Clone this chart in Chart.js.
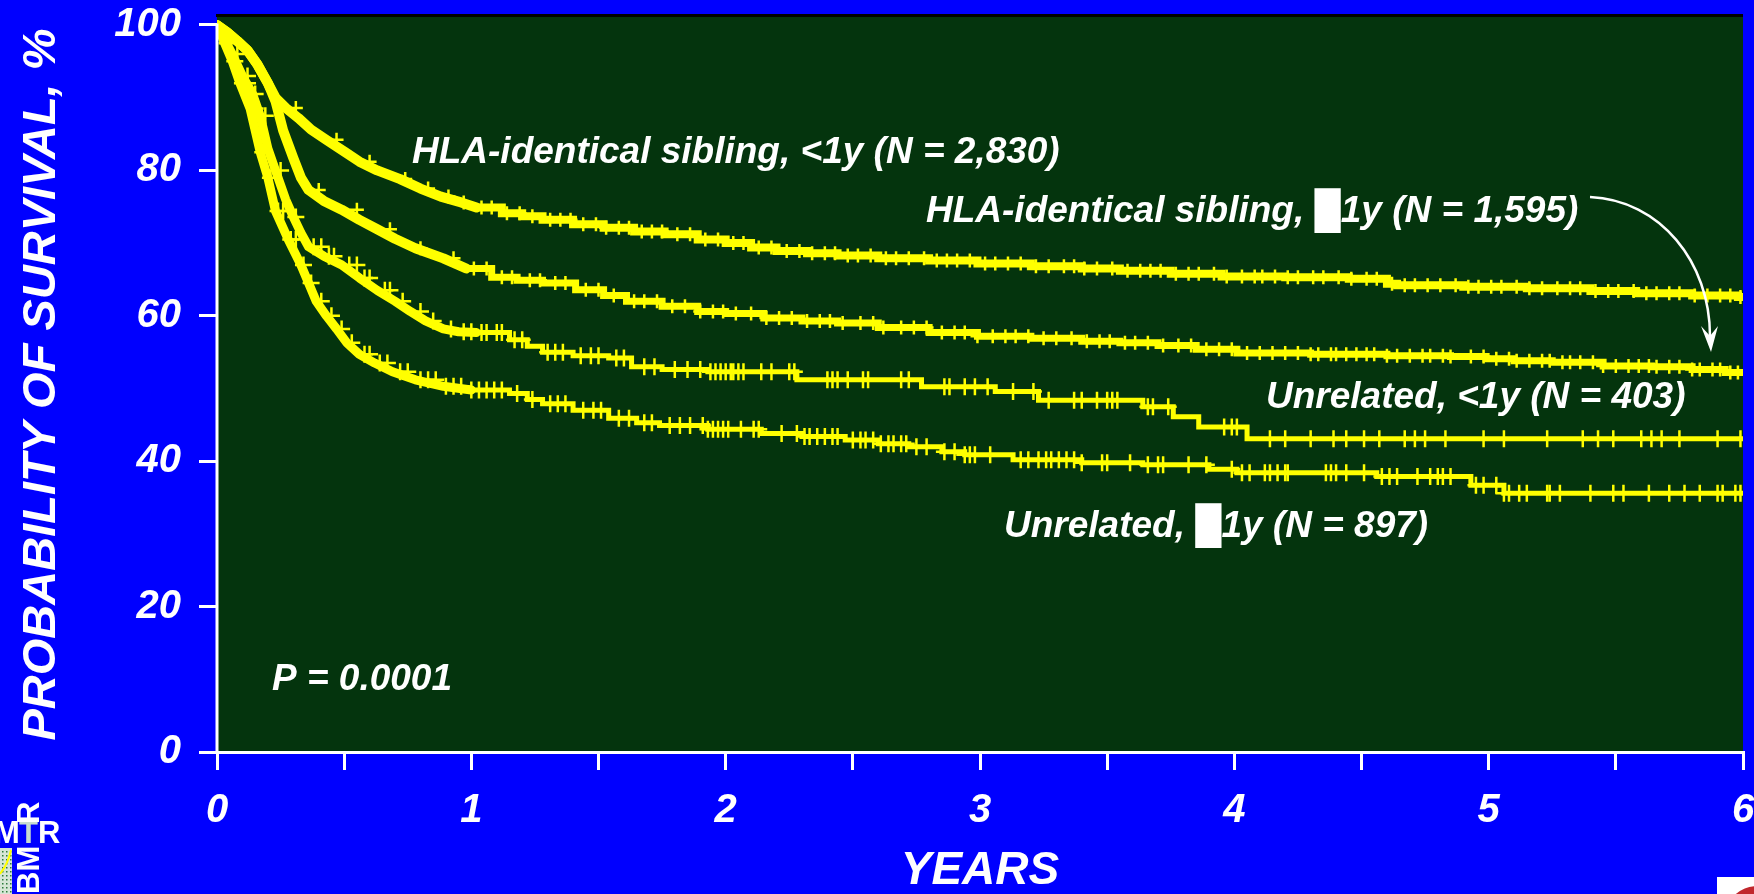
<!DOCTYPE html>
<html>
<head>
<meta charset="utf-8">
<script src="https://cdn.jsdelivr.net/npm/chart.js@4.4.0/dist/chart.umd.min.js"></script>
<style>
html,body{margin:0;padding:0;background:#0000ff;overflow:hidden}
#wrap{width:1754px;height:894px;position:relative}
canvas{display:block}
</style>
</head>
<body>
<div id="wrap"><canvas id="c" width="1754" height="894"></canvas></div>
<script>
// ---------- DATA ----------
const xTicks = [0, 0.5, 1, 1.5, 2, 2.5, 3, 3.5, 4, 4.5, 5, 5.5, 6];
const yTicks = [0, 20, 40, 60, 80, 100];

const seriesNames = [
  'HLA-identical sibling, <1y (N = 2,830)',
  'HLA-identical sibling, \u25881y (N = 1,595)',
  'Unrelated, <1y (N = 403)',
  'Unrelated, \u25881y (N = 897)'
];

// HLA-identical sibling, <1y
const sibLt1Times = [0,0.04,0.08,0.12,0.16,0.20,0.23,0.27,0.32,0.37,0.43,0.50,0.56,0.63,0.72,0.80,0.88,0.96,1.02,1.12,1.20,1.28,1.40,1.52,1.64,1.76,1.89,2.00,2.10,2.20,2.32,2.44,2.60,2.80,2.99,3.20,3.40,3.55,3.75,3.95,4.20,4.45,4.60,4.64,4.90,5.15,5.40,5.58,5.80,5.98,6.00];
const sibLt1Surv  = [100,99,97.8,96.5,94.5,92,90,88.6,87.2,85.6,84.2,82.6,81.2,80.0,78.8,77.5,76.4,75.6,74.9,74.1,73.7,73.2,72.6,72.1,71.6,71.2,70.5,70.0,69.4,68.9,68.6,68.3,67.9,67.6,67.2,66.8,66.5,66.2,65.8,65.4,65.3,65.1,64.4,64.2,64.0,63.8,63.4,63.1,62.8,62.6,62.6];
const sibLt1Censor = [0.31,0.47,0.60,0.74,0.83,0.91,0.97,1.04,1.08,1.14,1.19,1.24,1.31,1.35,1.39,1.44,1.49,1.53,1.58,1.62,1.67,1.71,1.75,1.81,1.86,1.92,1.97,2.03,2.07,2.13,2.18,2.24,2.29,2.34,2.39,2.43,2.48,2.52,2.57,2.63,2.67,2.72,2.78,2.83,2.87,2.91,2.96,3.02,3.06,3.11,3.16,3.22,3.27,3.33,3.37,3.41,3.46,3.52,3.58,3.63,3.67,3.71,3.77,3.82,3.86,3.92,3.97,4.03,4.08,4.11,4.16,4.21,4.25,4.31,4.35,4.41,4.46,4.52,4.56,4.62,4.67,4.71,4.76,4.81,4.87,4.92,4.96,5.01,5.05,5.11,5.16,5.21,5.27,5.32,5.36,5.42,5.47,5.51,5.57,5.62,5.66,5.71,5.75,5.81,5.86,5.91,5.95,5.99];

// HLA-identical sibling, >=1y
const sibGe1Times = [0,0.04,0.08,0.12,0.16,0.20,0.23,0.26,0.30,0.33,0.36,0.42,0.49,0.56,0.63,0.70,0.78,0.89,0.98,1.08,1.18,1.28,1.41,1.52,1.61,1.75,1.89,2.00,2.15,2.30,2.44,2.60,2.80,2.99,3.20,3.40,3.55,3.70,3.85,4.01,4.30,4.60,4.85,4.99,5.10,5.25,5.45,5.64,5.80,5.93,6.00];
const sibGe1Surv  = [100,99,97.8,96.5,94.5,92,89.5,85.5,81.7,79.0,77.3,75.8,74.6,73.2,71.9,70.6,69.3,67.9,66.5,65.3,64.9,64.5,63.6,62.8,62.0,61.3,60.6,60.3,59.7,59.3,59.0,58.4,57.7,57.2,56.9,56.5,56.3,55.9,55.4,54.9,54.7,54.5,54.4,54.1,53.8,53.6,53.1,53.0,52.6,52.2,52.2];
const sibGe1Censor = [0.40,0.55,0.68,0.80,0.93,1.01,1.06,1.12,1.16,1.23,1.27,1.33,1.37,1.45,1.50,1.56,1.64,1.68,1.73,1.79,1.84,1.90,1.95,1.99,2.04,2.10,2.16,2.21,2.26,2.32,2.37,2.41,2.46,2.53,2.58,2.62,2.69,2.74,2.79,2.85,2.90,2.94,2.99,3.05,3.10,3.14,3.19,3.25,3.30,3.36,3.42,3.47,3.51,3.57,3.61,3.66,3.72,3.78,3.83,3.89,3.94,3.99,4.05,4.10,4.15,4.20,4.25,4.30,4.33,4.38,4.40,4.44,4.48,4.52,4.55,4.60,4.64,4.69,4.74,4.77,4.82,4.85,4.93,4.98,5.03,5.08,5.11,5.16,5.21,5.24,5.29,5.32,5.36,5.41,5.45,5.50,5.55,5.59,5.63,5.66,5.71,5.75,5.80,5.83,5.88,5.91,5.95,5.98];

// Unrelated, <1y
const unrelLt1Times = [0,0.03,0.06,0.10,0.14,0.17,0.20,0.23,0.27,0.30,0.33,0.36,0.42,0.49,0.56,0.63,0.70,0.76,0.82,0.89,0.95,1.02,1.15,1.22,1.28,1.40,1.54,1.63,1.75,1.93,2.28,2.77,3.06,3.23,3.64,3.76,3.86,4.05,6.00];
const unrelLt1Surv  = [100,98,96,93,90.5,87.5,83,80,76,73.6,71.4,69.5,68.2,67.0,65.2,63.5,62.0,60.6,59.3,58.2,57.8,57.7,56.7,55.8,55.0,54.5,54.2,53.0,52.6,52.3,51.2,50.25,49.6,48.4,47.5,46.1,44.7,43.1,43.1];
const unrelLt1Censor = [0.05,0.08,0.12,0.15,0.19,0.25,0.31,0.38,0.41,0.44,0.46,0.52,0.55,0.58,0.60,0.66,0.68,0.73,0.80,0.85,0.92,0.97,1.00,1.04,1.06,1.10,1.12,1.17,1.20,1.30,1.33,1.36,1.43,1.47,1.50,1.57,1.60,1.68,1.72,1.80,1.85,1.90,1.94,1.96,1.98,2.00,2.02,2.03,2.05,2.07,2.14,2.18,2.25,2.27,2.40,2.42,2.44,2.48,2.54,2.56,2.69,2.72,2.86,2.88,2.94,2.98,3.03,3.13,3.21,3.27,3.37,3.40,3.46,3.50,3.52,3.54,3.66,3.68,3.74,3.96,3.99,4.01,4.14,4.20,4.30,4.39,4.44,4.51,4.57,4.67,4.71,4.75,4.83,4.98,5.06,5.23,5.37,5.43,5.49,5.60,5.64,5.68,5.75,5.90,5.99];

// Unrelated, >=1y
const unrelGe1Times = [0,0.03,0.06,0.09,0.13,0.17,0.20,0.23,0.28,0.33,0.36,0.39,0.43,0.47,0.51,0.56,0.62,0.69,0.78,0.89,1.00,1.15,1.22,1.28,1.40,1.54,1.65,1.74,1.93,2.14,2.30,2.47,2.60,2.72,2.85,2.94,3.13,3.40,3.64,3.90,4.01,4.56,4.93,5.06,6.00];
const unrelGe1Surv  = [100,97.5,95,92,88.5,82.5,79,74.4,70.5,67.0,64.5,62.0,60.0,58.2,56.3,54.7,53.5,52.3,51.2,50.3,49.8,49.3,48.5,47.9,47.0,45.9,45.3,44.9,44.4,43.8,43.4,42.9,42.4,42.0,41.3,40.9,40.2,39.8,39.5,38.9,38.4,37.9,36.7,35.6,35.6];
const unrelGe1Censor = [0.04,0.07,0.10,0.12,0.15,0.18,0.21,0.24,0.26,0.29,0.31,0.34,0.37,0.41,0.45,0.49,0.53,0.58,0.60,0.64,0.67,0.72,0.75,0.80,0.83,0.86,0.90,0.93,0.96,1.00,1.03,1.06,1.09,1.12,1.18,1.24,1.31,1.34,1.37,1.44,1.48,1.51,1.58,1.62,1.68,1.71,1.78,1.82,1.86,1.91,1.93,1.95,1.97,1.99,2.01,2.06,2.11,2.13,2.22,2.28,2.31,2.33,2.36,2.39,2.42,2.44,2.50,2.53,2.55,2.58,2.61,2.64,2.66,2.69,2.71,2.75,2.79,2.86,2.90,2.94,2.96,2.98,3.04,3.16,3.19,3.23,3.26,3.28,3.31,3.34,3.37,3.40,3.48,3.50,3.59,3.66,3.70,3.72,3.82,3.89,3.99,4.03,4.06,4.12,4.14,4.17,4.20,4.21,4.36,4.38,4.40,4.44,4.51,4.58,4.61,4.64,4.72,4.77,4.80,4.82,4.85,4.95,4.98,5.03,5.06,5.08,5.12,5.15,5.23,5.24,5.28,5.40,5.49,5.53,5.63,5.71,5.77,5.83,5.90,5.92,5.97,5.99];

// ---------- helpers ----------
function toPoints(times, surv) { return times.map((t, i) => ({x: t, y: surv[i]})); }
function survivalAt(times, surv, t) {
  let v = surv[0];
  for (let i = 0; i < times.length; i++) { if (times[i] <= t) v = surv[i]; }
  return v;
}
function censorPoints(censor, times, surv) { return censor.map(t => ({x: t, y: survivalAt(times, surv, t)})); }

const FONT = '"Liberation Sans", Arial, "DejaVu Sans", sans-serif';
const YELLOW = '#ffff00';
const GREEN = '#04340d';

// style per curve: early (dense) part drawn smooth & thicker, later part as KM steps
const curves = [
  {t: sibLt1Times, s: sibLt1Surv, c: sibLt1Censor, wEarly: 10, wLate: 8, mark: 7, smoothUntil: 1.02},
  {t: sibGe1Times, s: sibGe1Surv, c: sibGe1Censor, wEarly: 10, wLate: 7, mark: 7, smoothUntil: 0.98},
  {t: unrelLt1Times, s: unrelLt1Surv, c: unrelLt1Censor, wEarly: 9, wLate: 5, mark: 8.5, smoothUntil: 1.02},
  {t: unrelGe1Times, s: unrelGe1Surv, c: unrelGe1Censor, wEarly: 9, wLate: 5, mark: 8.5, smoothUntil: 1.00}
];

const datasets = [];
curves.forEach((cv, i) => {
  const pts = toPoints(cv.t, cv.s);
  datasets.push({
    label: seriesNames[i] + ' (early)',
    data: pts.filter(p => p.x <= cv.smoothUntil),
    showLine: true, stepped: false, tension: 0,
    borderColor: YELLOW, borderWidth: cv.wEarly, borderJoinStyle: 'round', borderCapStyle: 'round',
    pointRadius: 0, order: 2
  });
  datasets.push({
    label: seriesNames[i],
    data: pts.filter(p => p.x >= cv.smoothUntil),
    showLine: true, stepped: true,
    borderColor: YELLOW, borderWidth: cv.wLate,
    pointRadius: 0, order: 2
  });
});
curves.forEach((cv, i) => {
  datasets.push({
    label: seriesNames[i] + ' censored',
    data: censorPoints(cv.c, cv.t, cv.s),
    showLine: false,
    pointStyle: 'cross', pointRadius: cv.mark,
    pointBorderColor: YELLOW, pointBackgroundColor: YELLOW, pointBorderWidth: 2.5,
    order: 1
  });
});

const annotations = [
  {text: 'HLA-identical sibling, <1y (N = 2,830)', x: 412, y: 153},
  {text: 'HLA-identical sibling, \u25881y (N = 1,595)', x: 926, y: 212},
  {text: 'Unrelated, <1y (N = 403)', x: 1266, y: 398},
  {text: 'Unrelated, \u25881y (N = 897)', x: 1004, y: 527},
  {text: 'P = 0.0001', x: 272, y: 680}
];

const decor = {
  id: 'decor',
  beforeDraw(chart) {
    const {ctx, chartArea: a} = chart;
    ctx.save();
    ctx.fillStyle = '#0000ff';
    ctx.fillRect(0, 0, chart.width, chart.height);
    ctx.fillStyle = GREEN;
    ctx.fillRect(a.left, a.top, a.right - a.left, a.bottom - a.top);
    ctx.fillStyle = '#000000';
    ctx.fillRect(a.left - 1, a.top - 3, a.right - a.left + 1, 3);
    ctx.restore();
  },
  afterDraw(chart) {
    const {ctx, chartArea: a, scales} = chart;
    ctx.save();
    // y axis line from 100 down to 0
    const yTop = scales.y.getPixelForValue(100);
    ctx.strokeStyle = '#ffffff';
    ctx.lineWidth = 3;
    ctx.beginPath();
    ctx.moveTo(a.left, yTop - 1.5);
    ctx.lineTo(a.left, a.bottom);
    ctx.stroke();

    // annotation texts
    ctx.fillStyle = '#ffffff';
    ctx.font = 'italic bold 37px ' + FONT;
    ctx.textAlign = 'left';
    ctx.textBaseline = 'middle';
    annotations.forEach(an => ctx.fillText(an.text, an.x, an.y));

    // curved arrow
    ctx.strokeStyle = '#ffffff';
    ctx.lineWidth = 2.5;
    ctx.beginPath();
    ctx.moveTo(1590, 197);
    ctx.bezierCurveTo(1660, 200, 1710, 262, 1710, 336);
    ctx.stroke();
    ctx.fillStyle = '#ffffff';
    ctx.beginPath();
    ctx.moveTo(1711, 352);
    ctx.lineTo(1701, 326);
    ctx.lineTo(1710, 336);
    ctx.lineTo(1718, 326);
    ctx.closePath();
    ctx.fill();

    // bottom-left logo (partial)
    ctx.fillStyle = '#d6e6d6';
    ctx.fillRect(0, 848, 12, 46);
    ctx.fillStyle = '#2c7a3a';
    for (let yy = 851; yy < 894; yy += 4) { for (let xx = 2; xx < 12; xx += 4) { ctx.fillRect(xx, yy, 1.5, 1.5); } }
    ctx.strokeStyle = YELLOW; ctx.lineWidth = 2;
    ctx.beginPath(); ctx.moveTo(0, 874); ctx.quadraticCurveTo(8, 864, 11, 850); ctx.stroke();
    ctx.font = 'bold 31px ' + FONT;
    ctx.textBaseline = 'alphabetic';
    ctx.textAlign = 'left';
    ctx.fillStyle = '#ffffff';
    ctx.fillText('M', -6, 843);
    ctx.fillStyle = '#c8dccf';
    ctx.fillText('T', 19, 843);
    ctx.fillStyle = '#ffffff';
    ctx.fillText('R', 38, 843);
    ctx.save();
    ctx.translate(39, 894);
    ctx.rotate(-Math.PI / 2);
    ctx.fillText('BM', 0, 0);
    ctx.fillText('R', 70, 0);
    ctx.restore();

    // bottom-right logo (partial)
    ctx.fillStyle = '#ffffff';
    ctx.fillRect(1717, 877, 37, 17);
    ctx.fillStyle = '#c1272d';
    ctx.beginPath(); ctx.arc(1757, 918, 32, 0, Math.PI * 2); ctx.fill();
    ctx.restore();
  }
};

const tickFont = {family: FONT, size: 40, style: 'italic', weight: 'bold'};

new Chart(document.getElementById('c'), {
  type: 'scatter',
  data: {datasets},
  options: {
    responsive: false,
    animation: false,
    events: [],
    layout: {padding: {left: 0, right: 7, top: 17, bottom: 0}},
    plugins: {legend: {display: false}, tooltip: {enabled: false}},
    scales: {
      x: {
        type: 'linear', min: 0, max: 6,
        afterBuildTicks: s => { s.ticks = xTicks.map(v => ({value: v})); },
        afterFit: s => { s.height = 142; s.paddingLeft = 0; s.paddingRight = 0; },
        ticks: {
          color: '#ffffff', font: tickFont, padding: 17, maxRotation: 0, autoSkip: false,
          callback: v => (Number.isInteger(v) ? String(v) : '')
        },
        grid: {drawOnChartArea: false, drawTicks: true, tickLength: 18, color: '#ffffff', lineWidth: 3},
        border: {display: true, color: '#ffffff', width: 3},
        title: {display: true, text: 'YEARS', color: '#ffffff',
          font: {family: FONT, size: 46, style: 'italic', weight: 'bold', lineHeight: 1},
          padding: {top: 0, bottom: 0}}
      },
      y: {
        type: 'linear', min: 0, max: 101.1,
        afterBuildTicks: s => { s.ticks = yTicks.map(v => ({value: v})); },
        afterFit: s => { s.width = 217; s.paddingTop = 0; s.paddingBottom = 0; },
        ticks: {color: '#ffffff', font: tickFont, padding: 18},
        grid: {drawOnChartArea: false, drawTicks: true, tickLength: 18, color: '#ffffff', lineWidth: 3},
        border: {display: false},
        title: {display: true, text: 'PROBABILITY OF SURVIVAL, %', color: '#ffffff',
          font: {family: FONT, size: 47, style: 'italic', weight: 'bold', lineHeight: 1},
          padding: {top: 19, bottom: 0}}
      }
    }
  },
  plugins: [decor]
});
</script>
</body>
</html>
